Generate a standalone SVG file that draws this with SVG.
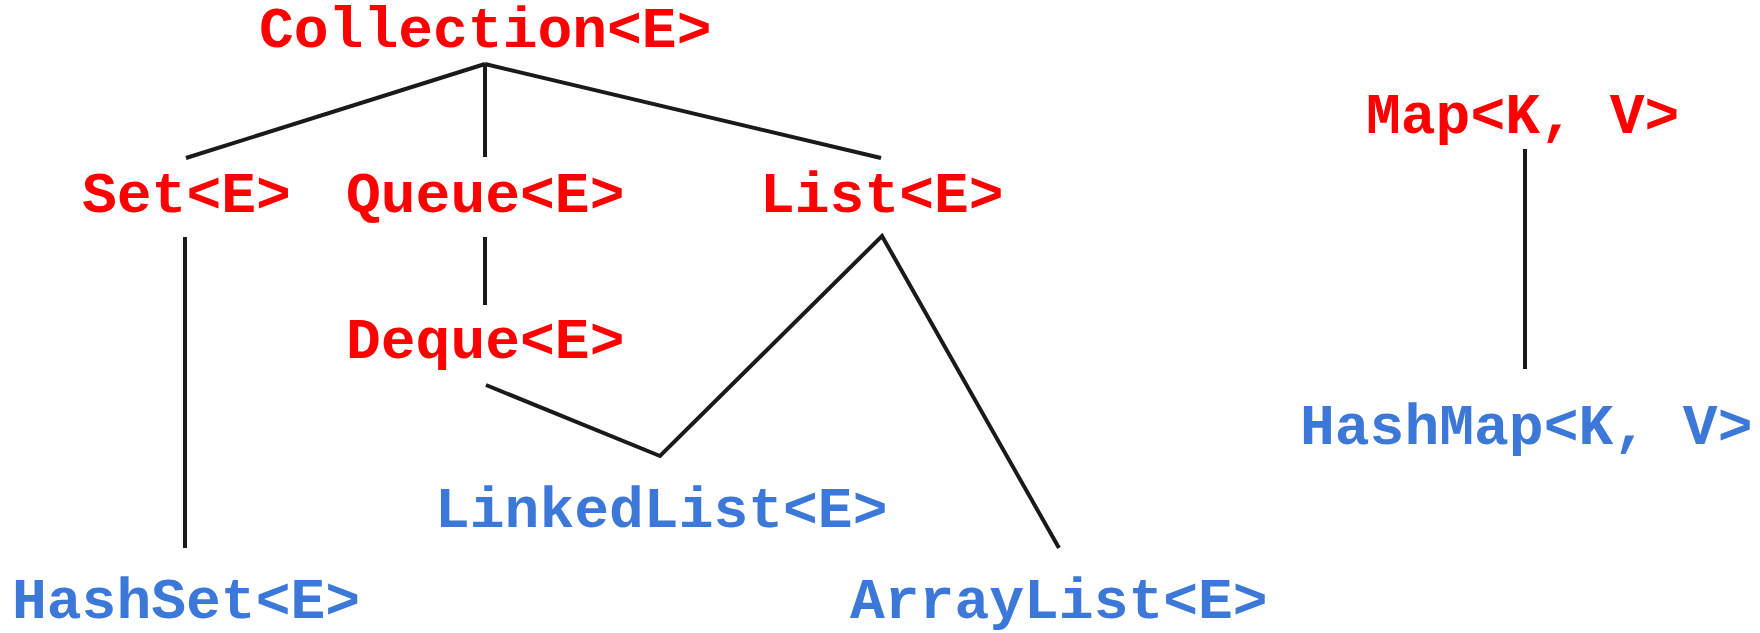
<svg xmlns="http://www.w3.org/2000/svg" width="1760" height="633" viewBox="0 0 1760 633">
<style>
text{font-family:"Courier New","Liberation Mono",monospace;font-weight:bold;font-size:58px}
.i{fill:#ff0000}
.c{fill:#3c78d8}
#edges line,#edges polyline{stroke:#1a1a1a;stroke-width:4;fill:none}
</style>
<rect width="1760" height="633" fill="#ffffff"/>
<g id="edges">
<line x1="485" y1="64" x2="186" y2="158"/>
<line x1="485" y1="64" x2="485" y2="157"/>
<line x1="485" y1="64" x2="881" y2="158"/>
<line x1="185" y1="237" x2="185" y2="548"/>
<line x1="485" y1="237" x2="485" y2="305"/>
<polyline points="486,385 660,456 882,236 1059,548"/>
<line x1="1525" y1="149" x2="1525" y2="369"/>
</g>
<g id="collection"><text class="i" x="259" y="47">Collection&lt;E&gt;</text></g>
<g id="set"><text class="i" x="82" y="212">Set&lt;E&gt;</text></g>
<g id="queue"><text class="i" x="346" y="212">Queue&lt;E&gt;</text></g>
<g id="list"><text class="i" x="760" y="212">List&lt;E&gt;</text></g>
<g id="deque"><text class="i" x="346" y="358">Deque&lt;E&gt;</text></g>
<g id="map"><text class="i" x="1366" y="133">Map&lt;K, V&gt;</text></g>
<g id="hashmap"><text class="c" x="1300" y="444">HashMap&lt;K, V&gt;</text></g>
<g id="linkedlist"><text class="c" x="435" y="527">LinkedList&lt;E&gt;</text></g>
<g id="hashset"><text class="c" x="12" y="618">HashSet&lt;E&gt;</text></g>
<g id="arraylist"><text class="c" x="850" y="618">ArrayList&lt;E&gt;</text></g>
</svg>
